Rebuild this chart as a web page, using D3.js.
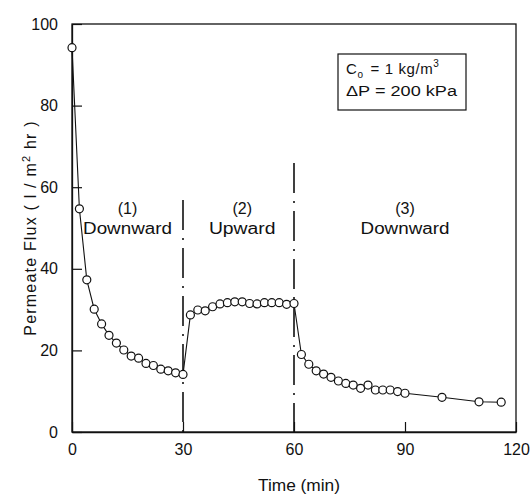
<!DOCTYPE html>
<html>
<head>
<meta charset="utf-8">
<script src="https://cdn.jsdelivr.net/npm/d3@7"></script>
<style>
  html, body { margin: 0; padding: 0; background: #fff; }
  svg text { font-family: Arial, "Liberation Sans", sans-serif; fill: #111; }
</style>
</head>
<body>
<svg id="chart" width="531" height="495"></svg>
<script>
// ---- data ----
const timeMin = [0,2,4,6,8,10,12,14,16,18,20,22,24,26,28,30,
                 32,34,36,38,40,42,44,46,48,50,52,54,56,58,60,
                 62,64,66,68,70,72,74,76,78,80,82,84,86,88,90,
                 100,110,116];
const fluxDownward1 = [94.2,54.7,37.3,30.1,26.5,23.7,21.8,20.1,18.6,18.1,16.8,16.3,15.4,15.0,14.5,14.1];
const fluxUpward2   = [28.7,29.9,29.7,30.7,31.4,31.7,31.9,31.9,31.5,31.4,31.7,31.7,31.7,31.3,31.5];
const fluxDownward3 = [19.0,16.6,15.0,14.2,13.4,12.5,11.9,11.5,10.7,11.5,10.3,10.3,10.3,9.9,9.5,8.5,7.4,7.3];
const xTicks = [0,30,60,90,120];
const yTicks = [0,20,40,60,80,100];
const switchTimes = [30,60];
const phaseLabels = [
  {num:"(1)", name:"Downward", t:15},
  {num:"(2)", name:"Upward", t:46},
  {num:"(3)", name:"Downward", t:90}
];

const flux = fluxDownward1.concat(fluxUpward2, fluxDownward3);
const points = timeMin.map((t,i) => ({t, v: flux[i]}));

const svg = d3.select("#chart");
const L = 72, R = 516, T = 24, B = 432;
const x = d3.scaleLinear().domain([0,120]).range([L,R]);
const y = d3.scaleLinear().domain([0,100]).range([B,T]);

// frame
svg.append("rect").attr("x",L).attr("y",T).attr("width",R-L).attr("height",B-T)
  .attr("fill","none").attr("stroke","#111").attr("stroke-width",1.3);

// axes
const yAxis = d3.axisLeft(y).tickValues(yTicks).tickSizeInner(-10).tickSizeOuter(0).tickPadding(14);
const gy = svg.append("g").attr("transform",`translate(${L},0)`).call(yAxis);
const xAxis = d3.axisBottom(x).tickValues(xTicks).tickSizeInner(-10).tickSizeOuter(0).tickPadding(12);
const gx = svg.append("g").attr("transform",`translate(0,${B})`).call(xAxis);
[gx, gy].forEach(g => {
  g.select(".domain").attr("stroke","#111").attr("stroke-width",1.3);
  g.selectAll(".tick line").attr("stroke","#111").attr("stroke-width",1.2);
  g.selectAll(".tick text").attr("font-size",16).attr("fill","#111")
    .style("font-family","Arial, 'Liberation Sans', sans-serif");
});

// dash-dot switch lines
const switchTop = [200, 163];
switchTimes.forEach((s,i) => {
  svg.append("line").attr("x1",x(s)).attr("x2",x(s)).attr("y1",switchTop[i]).attr("y2",B)
    .attr("stroke","#111").attr("stroke-width",1.6).attr("stroke-dasharray","30,8,2,8");
});

// data line
const line = d3.line().x(d=>x(d.t)).y(d=>y(d.v));
svg.append("path").datum(points).attr("d",line).attr("fill","none")
  .attr("stroke","#111").attr("stroke-width",1.1);
svg.selectAll("circle.pt").data(points).enter().append("circle").attr("class","pt")
  .attr("cx",d=>x(d.t)).attr("cy",d=>y(d.v)).attr("r",4)
  .attr("fill","#fff").attr("stroke","#111").attr("stroke-width",1.2);

// phase labels
phaseLabels.forEach(p => {
  svg.append("text").attr("x",x(p.t)).attr("y",214).attr("text-anchor","middle")
    .attr("font-size",16).text(p.num);
  svg.append("text").attr("x",x(p.t)).attr("y",234).attr("text-anchor","middle")
    .attr("font-size",16).attr("textLength", p.name.length*11.1).attr("lengthAdjust","spacingAndGlyphs")
    .text(p.name);
});

// legend box
svg.append("rect").attr("x",338).attr("y",54).attr("width",128).attr("height",56)
  .attr("fill","#fff").attr("stroke","#111").attr("stroke-width",1.2);
const t1 = svg.append("text").attr("x",346).attr("y",74).attr("font-size",15).attr("letter-spacing",0.6);
t1.append("tspan").text("C");
t1.append("tspan").attr("font-size",10).attr("dy",4).text("o");
t1.append("tspan").attr("dy",-4).attr("dx",7).text("= 1 kg/m");
t1.append("tspan").attr("font-size",10).attr("dy",-7).text("3");
svg.append("text").attr("x",346).attr("y",96).attr("font-size",14)
  .attr("textLength",111).attr("lengthAdjust","spacingAndGlyphs").text("ΔP = 200 kPa");

// axis titles
svg.append("text").attr("x",(L+R)/2+5).attr("y",491).attr("text-anchor","middle")
  .attr("font-size",16).attr("textLength",82).attr("lengthAdjust","spacingAndGlyphs").text("Time (min)");
const yt = svg.append("text").attr("transform",`translate(36,${(T+B)/2}) rotate(-90)`)
  .attr("text-anchor","middle").attr("font-size",16).attr("letter-spacing",1.2);
yt.append("tspan").text("Permeate Flux ( l / m");
yt.append("tspan").attr("font-size",11).attr("dy",-6).text("2");
yt.append("tspan").attr("dy",6).text(" hr )");
</script>
</body>
</html>
